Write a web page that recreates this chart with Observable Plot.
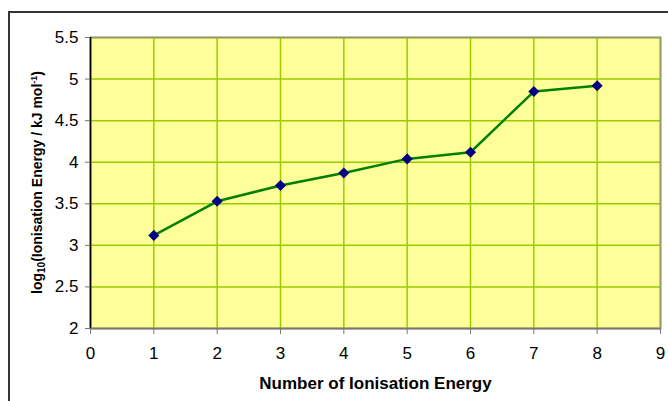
<!DOCTYPE html>
<html><head><meta charset="utf-8">
<script src="https://cdn.jsdelivr.net/npm/d3@7"></script>
<script src="https://cdn.jsdelivr.net/npm/@observablehq/plot@0.6"></script>
<style>
html,body{margin:0;padding:0;background:#fff;overflow:hidden;width:668px;height:401px}
#wrap{position:relative;width:668px;height:401px}
#wrap svg{position:absolute;left:0;top:0}
#border{position:absolute;left:8px;top:11px;width:720px;height:520px;border:2px solid #333;box-sizing:border-box;pointer-events:none}
</style></head><body><div id="wrap"><div id="border"></div></div>
<script>
const ionisationNumber = [1, 2, 3, 4, 5, 6, 7, 8];
const logEnergy = [3.12, 3.53, 3.72, 3.87, 4.04, 4.12, 4.85, 4.92];
const xTicks = [0, 1, 2, 3, 4, 5, 6, 7, 8, 9];
const yTicks = [2, 2.5, 3, 3.5, 4, 4.5, 5, 5.5];
const xLabel = "Number of Ionisation Energy";

const data = ionisationNumber.map((n, i) => ({n, v: logEnergy[i]}));
const font = "'Liberation Sans', Arial, sans-serif";

const plot = Plot.plot({
  width: 668, height: 401,
  marginLeft: 90, marginRight: 8, marginTop: 37, marginBottom: 73,
  style: {fontFamily: font, fontSize: "17px", background: "transparent", color: "#000", overflow: "visible"},
  x: {domain: [0, 9], ticks: xTicks, label: null},
  y: {domain: [2, 5.5], ticks: yTicks, label: null},
  marks: [
    Plot.frame({fill: "#FFFF99"}),
    Plot.gridX(xTicks, {stroke: "#99CC00", strokeOpacity: 1, strokeWidth: 1.5}),
    Plot.gridY(yTicks, {stroke: "#99CC00", strokeOpacity: 1, strokeWidth: 1.5}),
    Plot.frame({stroke: "#9a9a70", strokeWidth: 2}),
    Plot.ruleX([0], {stroke: "#000", strokeWidth: 1.5}),
    Plot.ruleY([2], {stroke: "#777", strokeWidth: 1.5}),
    Plot.axisX(xTicks, {tickSize: 6, tickPadding: 12, stroke: "#777", fill: "#000", fontSize: 17, tickFormat: d => String(d), label: null}),
    Plot.axisY(yTicks, {tickSize: 5, tickPadding: 7, stroke: "#777", fill: "#000", fontSize: 17, tickFormat: d => String(d), label: null}),
    Plot.line(data, {x: "n", y: "v", stroke: "#008000", strokeWidth: 2.5}),
    Plot.dot(data, {x: "n", y: "v", symbol: "diamond2", r: 5, fill: "#000080", stroke: "none"}),
    Plot.text([xLabel], {frameAnchor: "bottom", dy: 60, fontSize: 17, fontWeight: "bold", fill: "#000", lineAnchor: "bottom"})
  ]
});
document.getElementById("wrap").appendChild(plot);

// y-axis label with subscript / superscript
const ys = plot.scale("y");
const cy = (ys.apply(2) + ys.apply(5.5)) / 2;
const t = d3.select(plot).append("text")
  .attr("transform", `translate(41.5,${cy}) rotate(-90)`)
  .attr("text-anchor", "middle")
  .attr("font-family", font)
  .attr("font-weight", "bold")
  .attr("font-size", 14)
  .attr("fill", "#000");
t.append("tspan").text("log");
t.append("tspan").attr("font-size", 10).attr("dy", 3).text("10");
t.append("tspan").attr("dy", -3).text("(Ionisation Energy / kJ mol");
t.append("tspan").attr("font-size", 9).attr("dy", -5).text("-1");
t.append("tspan").attr("dy", 5).text(")");
</script></body></html>
